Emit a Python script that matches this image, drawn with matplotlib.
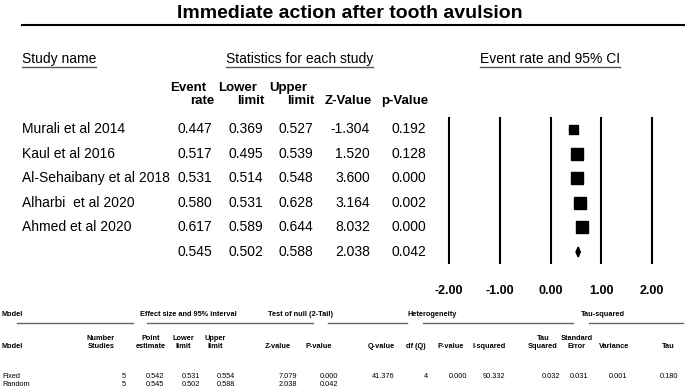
import matplotlib
matplotlib.use('Agg')
import matplotlib.pyplot as plt
from matplotlib.transforms import blended_transform_factory
from matplotlib.patches import Polygon

plt.rcParams['font.family'] = ['Liberation Sans', 'DejaVu Sans']

# study level data
studies = ['Murali et al 2014', 'Kaul et al 2016', 'Al-Sehaibany et al 2018',
           'Alharbi  et al 2020', 'Ahmed et al 2020']
event_rate = [0.447, 0.517, 0.531, 0.580, 0.617]
lower = [0.369, 0.495, 0.514, 0.531, 0.589]
upper = [0.527, 0.539, 0.548, 0.628, 0.644]
z_value = [-1.304, 1.520, 3.600, 3.164, 8.032]
p_value = [0.192, 0.128, 0.000, 0.002, 0.000]
box_px = [9, 12, 11.7, 11.3, 11.7]   # relative weight -> box size

# pooled (random effects)
pooled_rate = 0.545
pooled_lower = 0.502
pooled_upper = 0.588
pooled_z = 2.038
pooled_p = 0.042

ticks = [-2, -1, 0, 1, 2]

# bottom summary table
model_names = ['Fixed', 'Random']
n_studies = [5, 5]
point_est = [0.542, 0.545]
lo_lim = [0.531, 0.502]
up_lim = [0.554, 0.588]
z_null = [7.079, 2.038]
p_null = [0.000, 0.042]
q_value = 41.376
df_q = 4
p_het = 0.000
i_squared = 90.332
tau_sq = 0.032
tau_se = 0.031
tau_var = 0.001
tau = 0.180

W, H = 685, 389
fig = plt.figure(figsize=(W / 100, H / 100), dpi=100)
ax = fig.add_axes([0, 0, 1, 1])
ax.set_xlim(0, W)
ax.set_ylim(H, 0)
ax.axis('off')

# forest axes
top, bot = 116.7, 264.3
fx = fig.add_axes([449 / W, 1 - bot / H, (652 - 449) / W, (bot - top) / H])
fx.set_xlim(-2, 2)
fx.set_ylim(5.5, -0.5)
fx.axis('off')

rowtr = blended_transform_factory(ax.transData, fx.transData)
ticktr = blended_transform_factory(fx.transData, ax.transData)

# title + rule
ax.text(350, 13, 'Immediate action after tooth avulsion', ha='center', va='center',
        fontsize=14, fontweight='bold')
ax.plot([22, W], [25, 25], color='k', lw=1.5)

# group headers with underline
for txt, x in [('Study name', 22), ('Statistics for each study', 226),
               ('Event rate and 95% CI', 480)]:
    t = ax.text(x, 59, txt, ha='left', va='center', fontsize=10)
    fig.canvas.draw()
    bb = t.get_window_extent().transformed(ax.transData.inverted())
    ax.plot([bb.x0, bb.x1], [67, 67], color='#555555', lw=1)

# column headers
col_right = [212, 263, 313, 370, 426]
head1 = ['Event', 'Lower', 'Upper', '', '']
head2 = ['rate', 'limit', 'limit', 'Z-Value', 'p-Value']
for xr, h1, h2 in zip(col_right, head1, head2):
    ax.text(xr - 6, 88, h1, ha='right', va='center', fontsize=9.5, fontweight='bold')
    ax.text(xr + 2, 101, h2, ha='right', va='center', fontsize=9.5, fontweight='bold')

# study rows
for i, name in enumerate(studies):
    ax.text(22, i, name, transform=rowtr, ha='left', va='center', fontsize=10)
    vals = [event_rate[i], lower[i], upper[i], z_value[i], p_value[i]]
    for xr, v in zip(col_right, vals):
        ax.text(xr, i, f'{v:.3f}', transform=rowtr, ha='right', va='center', fontsize=10)
    fx.plot([lower[i], upper[i]], [i, i], color='k', lw=1)
    fx.plot(event_rate[i], i, 's', color='k', ms=box_px[i] * 0.72)

ip = len(studies)
for xr, v in zip(col_right, [pooled_rate, pooled_lower, pooled_upper, pooled_z, pooled_p]):
    ax.text(xr, ip, f'{v:.3f}', transform=rowtr, ha='right', va='center', fontsize=10)
dh = 0.2
fx.add_patch(Polygon([(pooled_lower, ip), (pooled_rate, ip - dh),
                      (pooled_upper, ip), (pooled_rate, ip + dh)], closed=True,
                     color='k', clip_on=False))

# forest grid lines and tick labels
for t in ticks:
    fx.plot([t, t], [-0.45, 5.45], color='k', lw=1.5, clip_on=False)
    ax.text(t, 291, f'{t:.2f}', transform=ticktr, ha='center', va='center',
            fontsize=9, fontweight='bold')

# bottom summary table
fs = 5.3
grp = [('Model', 2), ('Effect size and 95% interval', 140), ('Test of null (2-Tail)', 268),
       ('Heterogeneity', 408), ('Tau-squared', 581)]
for txt, x in grp:
    ax.text(x, 314, txt, ha='left', va='center', fontsize=fs, fontweight='bold')
for x0, x1 in [(17, 133), (147, 313), (328, 407), (423, 573), (589, 683)]:
    ax.plot([x0, x1], [323, 323], color='#666666', lw=1)

ax.text(2, 347, 'Model', ha='left', va='center', fontsize=fs, fontweight='bold')
sub = [('Number', 'Studies', 101), ('Point', 'estimate', 151), ('Lower', 'limit', 183),
       ('Upper', 'limit', 215), ('', 'Z-value', 278), ('', 'P-value', 319),
       ('', 'Q-value', 381), ('', 'df (Q)', 416), ('', 'P-value', 451),
       ('', 'I-squared', 489), ('Tau', 'Squared', 543), ('Standard', 'Error', 577),
       ('', 'Variance', 614), ('', 'Tau', 668)]
for h1, h2, xc in sub:
    if h1:
        ax.text(xc, 338, h1, ha='center', va='center', fontsize=fs, fontweight='bold')
    ax.text(xc, 347, h2, ha='center', va='center', fontsize=fs, fontweight='bold')

row_y = [376, 385]
for j, m in enumerate(model_names):
    y = row_y[j]
    ax.text(2, y, m, ha='left', va='center', fontsize=fs)
    ax.text(126, y, f'{n_studies[j]}', ha='right', va='center', fontsize=fs)
    for xr, v in zip([164, 200, 235, 297, 338],
                     [point_est[j], lo_lim[j], up_lim[j], z_null[j], p_null[j]]):
        ax.text(xr, y, f'{v:.3f}', ha='right', va='center', fontsize=fs)

y = row_y[0]
for xr, s in zip([395, 428, 467, 505, 560, 588, 627, 678],
                 [f'{q_value:.3f}', f'{df_q}', f'{p_het:.3f}', f'{i_squared:.3f}',
                  f'{tau_sq:.3f}', f'{tau_se:.3f}', f'{tau_var:.3f}', f'{tau:.3f}']):
    ax.text(xr, y, s, ha='right', va='center', fontsize=fs)

fig.savefig('out.png', dpi=100)
